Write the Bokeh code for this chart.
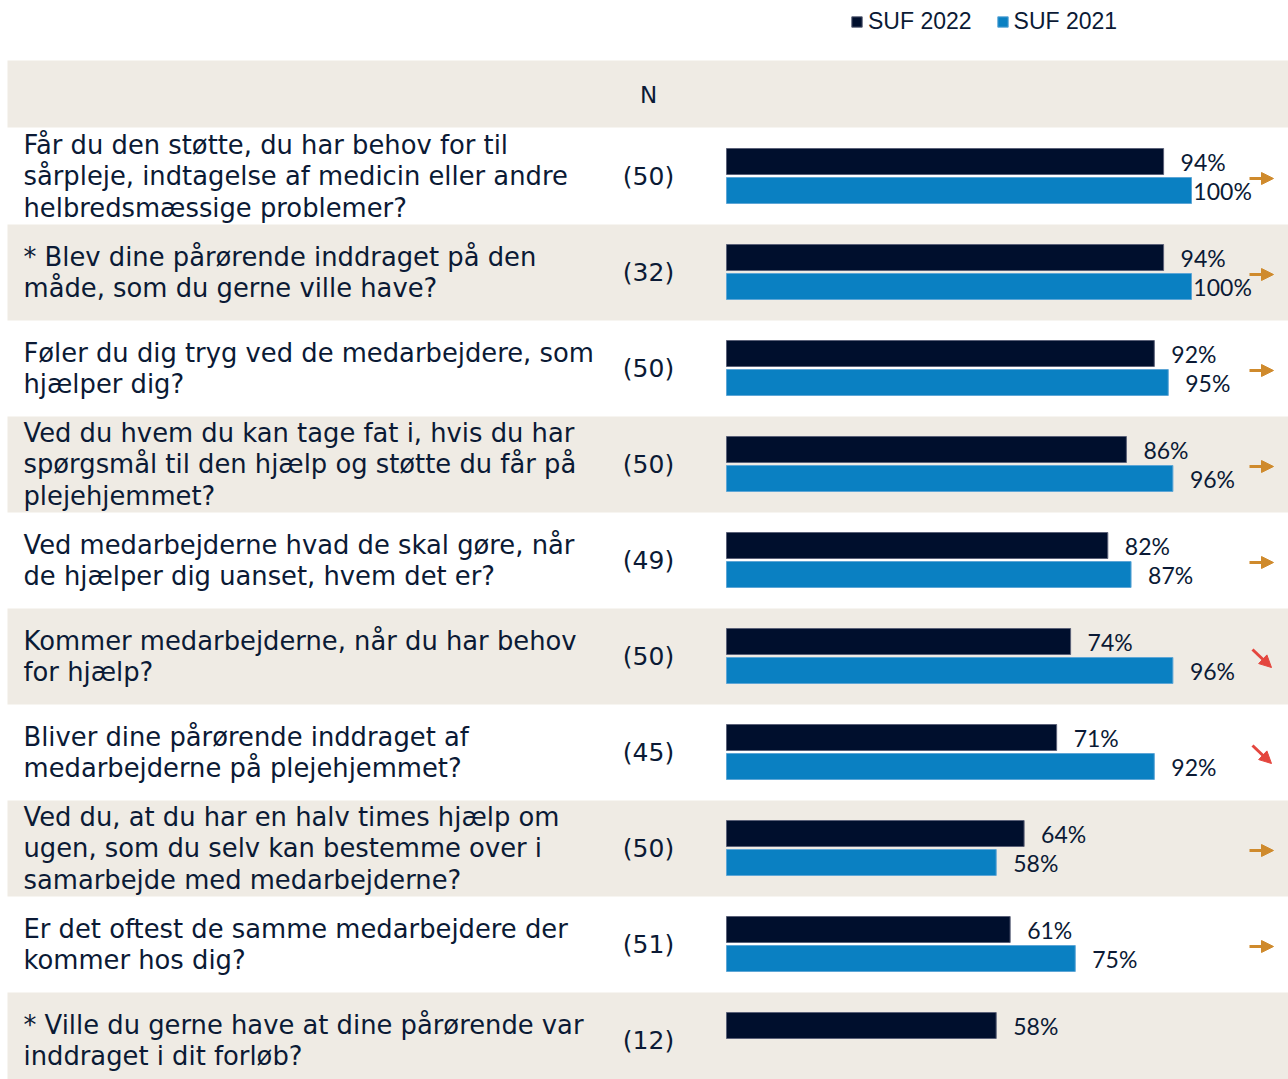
from bokeh.plotting import figure
from bokeh.models import Range1d, ColumnDataSource, Arrow, NormalHead, Legend, LegendItem
from bokeh.core.properties import value
from bokeh.embed import file_html
from bokeh.resources import INLINE

questions = [
    "Får du den støtte, du har behov for til\nsårpleje, indtagelse af medicin eller andre\nhelbredsmæssige problemer?",
    "* Blev dine pårørende inddraget på den\nmåde, som du gerne ville have?",
    "Føler du dig tryg ved de medarbejdere, som\nhjælper dig?",
    "Ved du hvem du kan tage fat i, hvis du har\nspørgsmål til den hjælp og støtte du får på\nplejehjemmet?",
    "Ved medarbejderne hvad de skal gøre, når\nde hjælper dig uanset, hvem det er?",
    "Kommer medarbejderne, når du har behov\nfor hjælp?",
    "Bliver dine pårørende inddraget af\nmedarbejderne på plejehjemmet?",
    "Ved du, at du har en halv times hjælp om\nugen, som du selv kan bestemme over i\nsamarbejde med medarbejderne?",
    "Er det oftest de samme medarbejdere der\nkommer hos dig?",
    "* Ville du gerne have at dine pårørende var\ninddraget i dit forløb?",
]
n_values = [50, 32, 50, 50, 49, 50, 45, 50, 51, 12]
suf_2022 = [94, 94, 92, 86, 82, 74, 71, 64, 61, 58]
suf_2021 = [100, 100, 95, 96, 87, 96, 92, 58, 75, None]
trend = ["flat", "flat", "flat", "flat", "flat", "down", "down", "flat", "flat", None]
series_names = ["SUF 2022", "SUF 2021"]

W, H = 1288, 1079
X0PX = 726.0
PXPCT = 4.65
ROW_H = 96.0
ROW0 = 176.0

NAVY = "#000f2d"
BLUE = "#0a80c2"
BEIGE = "#efebe4"
TXT = "#0b1a35"
ORANGE = "#cf8a2c"
RED = "#e4463e"


def px(x):
    return (x - X0PX) / PXPCT


def py(y):
    return (y - ROW0) / ROW_H


p = figure(width=W, height=H, output_backend="svg", toolbar_location=None,
           x_range=Range1d(px(0), px(W)), y_range=Range1d(py(H), py(0)),
           min_border=0, outline_line_color=None)
p.axis.visible = False
p.grid.visible = False
p.background_fill_color = "white"

n = len(questions)
idx = list(range(n))

# header band
p.quad(left=[px(7)], right=[px(W)], top=[py(60)], bottom=[py(127)],
       fill_color=BEIGE, line_color=None)
band_rows = [i for i in idx if i % 2 == 1]
p.quad(left=[px(7)] * len(band_rows), right=[px(W)] * len(band_rows),
       top=[i - 0.5 for i in band_rows], bottom=[i + 0.5 for i in band_rows],
       fill_color=BEIGE, line_color=None)

# header N
p.text(x=[px(648)], y=[py(94)], text=["N"], text_align="center", text_baseline="middle",
       text_font=value("DejaVu Sans"), text_font_size="23px", text_color=TXT)

# question texts
p.text(x=[px(23)] * n, y=idx, text=questions, text_align="left", text_baseline="middle",
       text_font=value("DejaVu Sans"), text_font_size="25.8px", text_color=TXT,
       text_line_height=1.065)

# N values
p.text(x=[px(648)] * n, y=idx, text=[f"({v})" for v in n_values], text_align="center",
       text_baseline="middle", text_font=value("DejaVu Sans"), text_font_size="25px",
       text_color=TXT)

OFF_A = 15 / ROW_H
OFF_B = 14 / ROW_H
BAR_H = 26 / ROW_H

src22 = ColumnDataSource(dict(y=[i - OFF_A for i in idx], right=suf_2022,
                              lx=[min(v + 17 / PXPCT, 100.4) for v in suf_2022],
                              lab=[f"{v}%" for v in suf_2022]))
i21 = [i for i in idx if suf_2021[i] is not None]
v21 = [suf_2021[i] for i in i21]
src21 = ColumnDataSource(dict(y=[i + OFF_B for i in i21], right=v21,
                              lx=[min(v + 17 / PXPCT, 100.4) for v in v21],
                              lab=[f"{v}%" for v in v21]))

r22 = p.hbar(y="y", left=0, right="right", height=BAR_H, source=src22,
             fill_color=NAVY, line_color="#5b6178", line_width=1)
r21 = p.hbar(y="y", left=0, right="right", height=BAR_H, source=src21,
             fill_color=BLUE, line_color="#5ea6d6", line_width=1)

for s in (src22, src21):
    p.text(x="lx", y="y", text="lab", source=s, text_align="left", text_baseline="middle",
           text_font=value("Lato"), text_font_size="23px", text_color=TXT)

# trend arrows
flat = [i for i in idx if trend[i] == "flat"]
down = [i for i in idx if trend[i] == "down"]
fsrc = ColumnDataSource(dict(xs=[px(1249)] * len(flat), xe=[px(1273)] * len(flat),
                             ys=[i + 2 / ROW_H for i in flat], ye=[i + 2 / ROW_H for i in flat]))
dsrc = ColumnDataSource(dict(xs=[px(1252)] * len(down), xe=[px(1271)] * len(down),
                             ys=[i - 7 / ROW_H for i in down], ye=[i + 11 / ROW_H for i in down]))
p.add_layout(Arrow(x_start="xs", y_start="ys", x_end="xe", y_end="ye", source=fsrc,
                   line_color=ORANGE, line_width=3,
                   end=NormalHead(size=12, fill_color=ORANGE, line_color=ORANGE)))
p.add_layout(Arrow(x_start="xs", y_start="ys", x_end="xe", y_end="ye", source=dsrc,
                   line_color=RED, line_width=3,
                   end=NormalHead(size=12, fill_color=RED, line_color=RED)))

legend = Legend(items=[LegendItem(label=series_names[0], renderers=[r22]),
                       LegendItem(label=series_names[1], renderers=[r21])],
                orientation="horizontal", location=(850, H - 35),
                glyph_width=13, glyph_height=13, label_text_font_size="23px",
                label_text_font="Liberation Sans", label_text_color=TXT,
                label_standoff=5, spacing=24, padding=0, margin=0,
                border_line_color=None, background_fill_alpha=0,
                label_height=22)
p.add_layout(legend)

open("out.html", "w").write(file_html(p, INLINE))
